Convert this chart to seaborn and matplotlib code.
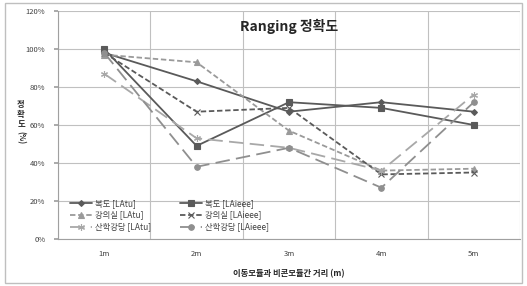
import numpy as np
import pandas as pd
import matplotlib
matplotlib.use("Agg")
import matplotlib.pyplot as plt
from matplotlib.patches import Rectangle
import seaborn as sns

distances = ["1m", "2m", "3m", "4m", "5m"]

hall_latu = [98, 83, 67, 72, 67]        # 복도 [LAtu]
hall_laieee = [100, 49, 72, 69, 60]     # 복도 [LAieee]
room_latu = [97, 93, 57, 36, 37]        # 강의실 [LAtu]
room_laieee = [98, 67, 69, 34, 35]      # 강의실 [LAieee]
aud_latu = [87, 53, 48, 36, 76]         # 산학강당 [LAtu]
aud_laieee = [98, 38, 48, 27, 72]       # 산학강당 [LAieee]

series_names = ["복도 [LAtu]", "복도 [LAieee]", "강의실 [LAtu]",
                "강의실 [LAieee]", "산학강당 [LAtu]", "산학강당 [LAieee]"]
series_values = [hall_latu, hall_laieee, room_latu, room_laieee, aud_latu, aud_laieee]

sns.set_theme(style="white")
plt.rcParams["font.family"] = ["Noto Sans CJK KR", "DejaVu Sans"]

styles = {
    "복도 [LAtu]": dict(color="#5a5a5a", ls="-", marker="D", ms=3, lw=1.3),
    "복도 [LAieee]": dict(color="#5a5a5a", ls="-", marker="s", ms=4.5, lw=1.3),
    "강의실 [LAtu]": dict(color="#9a9a9a", ls=(0, (3, 1.5)), marker="^", ms=4.5, lw=1.3),
    "강의실 [LAieee]": dict(color="#5a5a5a", ls=(0, (3, 1.5)), marker="x", ms=4.5, lw=1.3),
    "산학강당 [LAtu]": dict(color="#a8a8a8", ls=(0, (8, 3.5)), marker=(6, 2, 0), ms=5, lw=1.3),
    "산학강당 [LAieee]": dict(color="#8f8f8f", ls=(0, (8, 3.5)), marker="o", ms=4, lw=1.3),
}

fig = plt.figure(figsize=(5.27, 2.86), dpi=100)
fig.patches.append(Rectangle((0.01, 0.012), 0.98, 0.976, transform=fig.transFigure,
                             fill=False, edgecolor="#bfbfbf", lw=1.0))
ax = fig.add_axes([58 / 527, 1 - 239 / 286, 462 / 527, 228 / 286])

for name, vals in zip(series_names, series_values):
    df = pd.DataFrame({"dist": distances, "acc": vals})
    st = styles[name]
    sns.lineplot(data=df, x="dist", y="acc", ax=ax, color=st["color"], linestyle=st["ls"],
                 marker=st["marker"], markersize=st["ms"], linewidth=st["lw"],
                 markeredgecolor=st["color"], markerfacecolor=st["color"],
                 markeredgewidth=0.8, label=name, legend=False)

ax.set_xlim(-0.5, 4.5)
ax.set_ylim(0, 120)
ax.set_yticks(np.arange(0, 121, 20))
ax.set_yticklabels([f"{v}%" for v in range(0, 121, 20)], fontsize=5.5, color="#404040")
ax.set_xticks(range(len(distances)))
ax.set_xticklabels(distances, fontsize=5.5, color="#404040")
ax.set_xticks(np.arange(-0.5, 4.6, 1), minor=True)
ax.tick_params(axis="x", which="major", length=0, pad=8)
ax.tick_params(axis="x", which="minor", length=3, color="#a0a0a0")
ax.tick_params(axis="y", length=3, color="#a0a0a0", left=True, pad=6)
ax.grid(True, axis="y", color="#c0c0c0", lw=0.8)
ax.grid(True, axis="x", which="minor", color="#c0c0c0", lw=0.8)
for s in ["top", "right"]:
    ax.spines[s].set_visible(False)
for s in ["left", "bottom"]:
    ax.spines[s].set_color("#a0a0a0")
    ax.spines[s].set_linewidth(0.8)

ax.set_xlabel("이동모듈과 비콘모듈간 거리 (m)", fontsize=6, fontweight="bold", labelpad=8)
ax.set_ylabel("")
for ch, ypix in zip("정확도", [105, 115, 125]):
    fig.text(21 / 527, 1 - ypix / 286, ch, fontsize=6, fontweight="bold",
             ha="center", va="center", rotation=0)
fig.text(21 / 527, 1 - 138 / 286, "(%)", fontsize=5.5, fontweight="bold",
         ha="center", va="center", rotation=-90)

ax.text(2, 112, "Ranging 정확도", fontsize=10, fontweight="bold", ha="center", va="center")

handles, labels = ax.get_legend_handles_labels()
order = [0, 2, 4, 1, 3, 5]
ax.legend([handles[i] for i in order], [labels[i] for i in order], ncol=2,
          loc="lower left", bbox_to_anchor=(0.01, 0.0), frameon=False, fontsize=6,
          handlelength=2.6, columnspacing=3.5, labelspacing=0.35, handletextpad=0.4,
          labelcolor="#404040")

fig.savefig("out.png", dpi=100)
